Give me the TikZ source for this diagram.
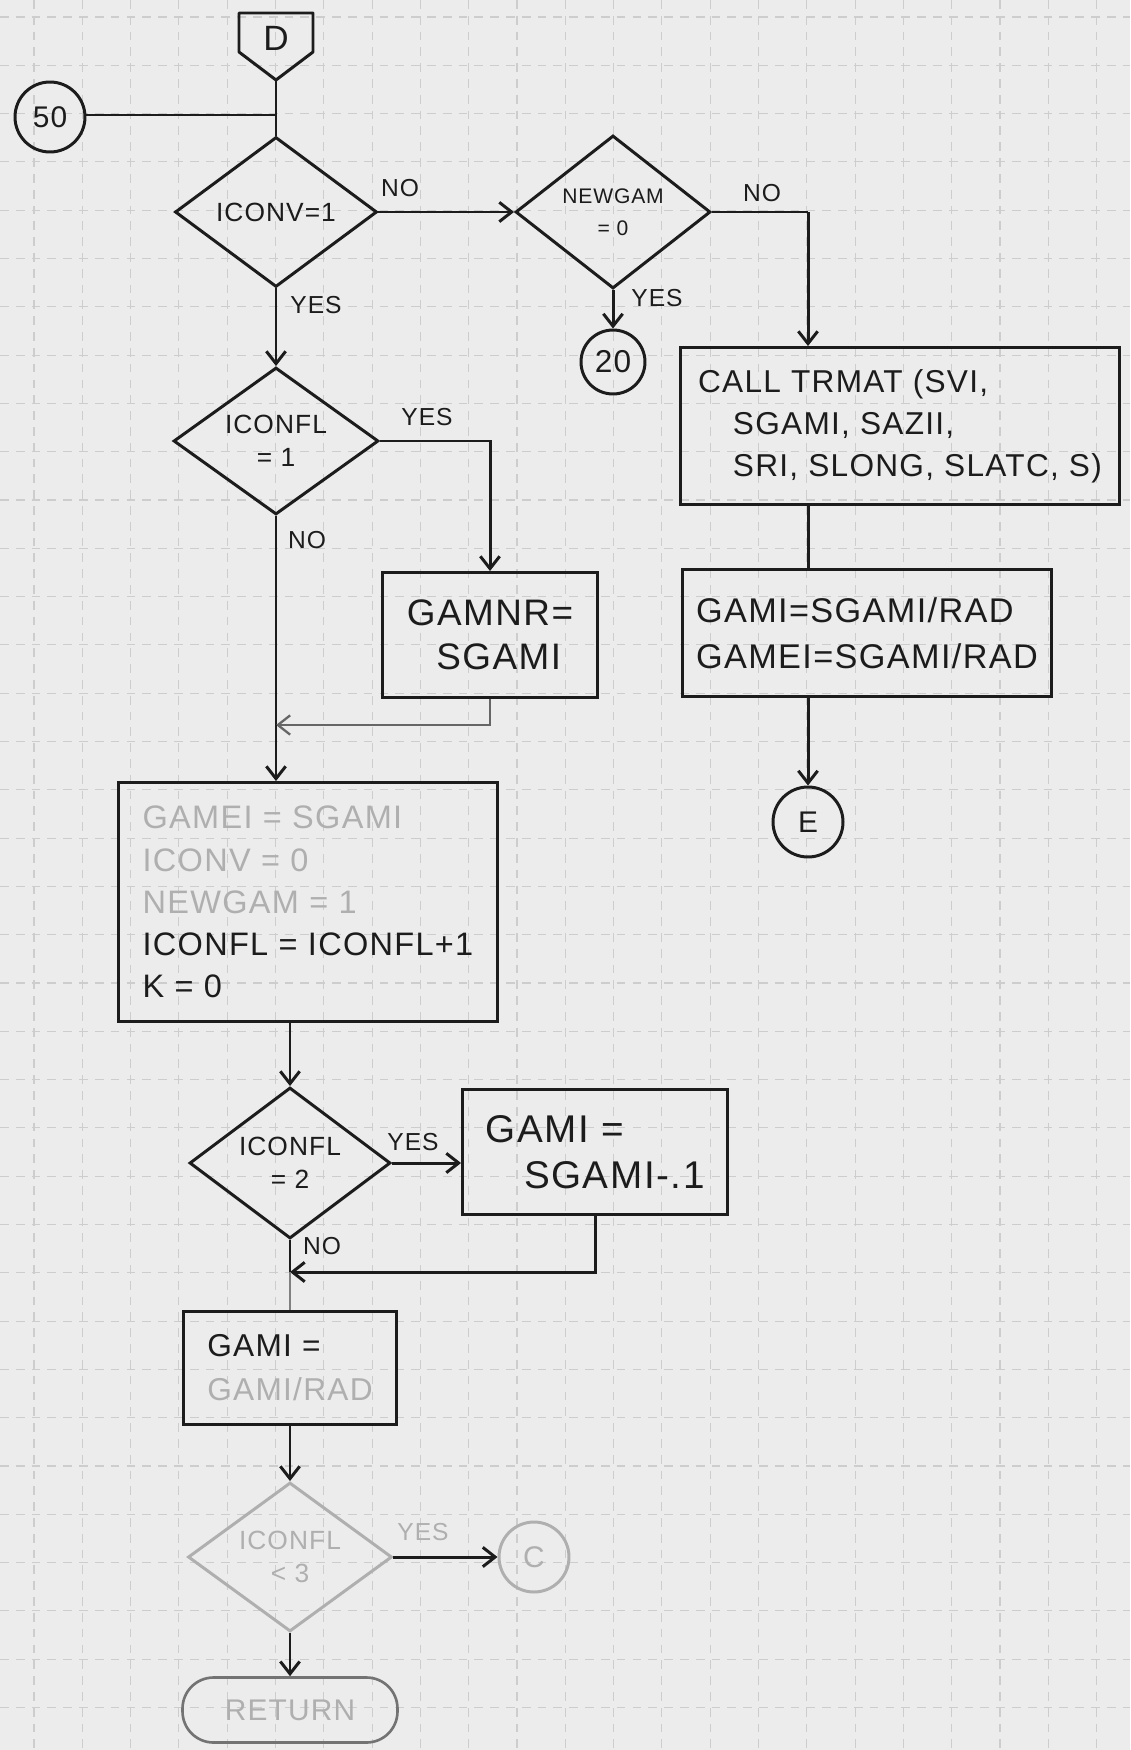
\documentclass[tikz,border=0pt]{standalone}
\usepackage{fontspec}
\setmainfont{Liberation Sans}[LetterSpace=4]
\usetikzlibrary{shapes.geometric,arrows.meta,calc}
\definecolor{paper}{RGB}{236,236,236}
\definecolor{ink}{RGB}{28,28,28}
\definecolor{gridc}{RGB}{205,205,205}
\definecolor{faintc}{RGB}{175,175,175}
\begin{document}
\begin{tikzpicture}[x=0.02cm,y=-0.02cm,
  ln/.style={draw=ink,line width=1.7pt},
  arr/.style={ln,-{Straight Barb[length=7pt,width=11pt]}},
  dia/.style={diamond,draw=ink,line width=1.7pt,inner sep=0pt,aspect=1.35,align=center,text=ink,font=\fontsize{15}{19}\selectfont},
  box/.style={rectangle,draw=ink,line width=1.7pt,inner sep=0pt,align=left,text=ink,font=\fontsize{18}{25}\selectfont},
  conn/.style={circle,draw=ink,line width=1.7pt,inner sep=0pt,minimum size=1.4cm,text=ink,font=\fontsize{17}{20}\selectfont},
  lbl/.style={inner sep=0pt,text=ink,font=\fontsize{14}{16}\selectfont},
  gridline/.style={draw=gridc,line width=0.6pt,dash pattern=on 5pt off 4pt}]
\fill[paper] (0,0) rectangle (1130,1750);
\useasboundingbox (0,0) rectangle (1130,1750);
\foreach \i in {0,...,22} \draw[gridline] ({34+48.3*\i},0) -- ({34+48.3*\i},1750);
\foreach \i in {0,...,35} \draw[gridline] (0,{17+48.3*\i}) -- (1130,{17+48.3*\i});

% entry connector D
\node[inner sep=0pt,text=ink,font=\fontsize{20}{20}\selectfont] (D) at (276,38) {D};
\coordinate (Dtip) at (276,80);
\draw[ln,line join=round] (239,13) -- (313,13) -- (313,52) -- (Dtip) -- (239,52) -- cycle;

% connector 50
\node[conn] (c50) at (50,117) {50};
\coordinate (J0) at (276,115);

% decisions and boxes
\node[dia,minimum width=4.04cm,minimum height=3.0cm] (ICONV) at (276,212) {ICONV=1};
\node[dia,minimum width=3.9cm,minimum height=3.06cm,font=\fontsize{12}{18}\selectfont] (NEWGAM) at (613,212) {NEWGAM\\= 0};
\node[conn,minimum size=1.28cm,font=\fontsize{18}{20}\selectfont] (c20) at (613,362) {20};
\node[box,minimum width=8.78cm,minimum height=3.14cm,font=\fontsize{18}{24}\selectfont] (TRMAT) at (900,426)
  {CALL TRMAT (SVI,\\\hspace*{1.1em}SGAMI, SAZII,\\\hspace*{1.1em}SRI, SLONG, SLATC, S)};
\node[box,minimum width=7.4cm,minimum height=2.54cm,font=\fontsize{19.5}{26}\selectfont] (GAMIA) at (867,633)
  {GAMI=SGAMI/RAD\\GAMEI=SGAMI/RAD};
\node[conn] (cE) at (808,822) {E};

\node[dia,minimum width=4.1cm,minimum height=2.94cm] (ICONFL1) at (276,441) {ICONFL\\= 1};
\node[box,minimum width=4.3cm,minimum height=2.5cm,font=\fontsize{21}{25}\selectfont] (GAMNR) at (490,635) {GAMNR=\\\hspace*{0.8em}SGAMI};
\coordinate (J1) at (276,725);

\node[box,minimum width=7.6cm,minimum height=4.78cm,font=\fontsize{18.5}{24}\selectfont] (BIG) at (308,902)
  {{\color{faintc}GAMEI = SGAMI}\\{\color{faintc}ICONV = 0}\\{\color{faintc}NEWGAM = 1}\\ICONFL = ICONFL+1\\K = 0};

\node[dia,minimum width=4.02cm,minimum height=3.02cm] (ICONFL2) at (290,1163) {ICONFL\\= 2};
\node[box,minimum width=5.3cm,minimum height=2.5cm,font=\fontsize{22}{26}\selectfont] (GAMI2) at (595,1152) {GAMI =\\\hspace*{1em}SGAMI-.1};
\coordinate (J2) at (290,1272);

\node[box,minimum width=4.26cm,minimum height=2.26cm] (GAMIR) at (290,1368) {GAMI =\\{\color{faintc}GAMI/RAD}};
\node[dia,draw=faintc,text=faintc,minimum width=4.08cm,minimum height=2.98cm] (ICONFL3) at (290,1557) {ICONFL\\< 3};
\node[conn,draw=faintc,text=faintc] (C3) at (534,1557) {C};
\node[rectangle,draw=black!55,line width=1.5pt,rounded corners=0.62cm,minimum width=4.3cm,minimum height=1.3cm,inner sep=0pt,text=faintc,font=\fontsize{17}{20}\selectfont] (RET) at (290,1710) {RETURN};

% labels
\node[lbl] (noA) at (400,188) {NO};
\node[lbl] (yesA) at (316,305) {YES};
\node[lbl] (noB) at (762,193) {NO};
\node[lbl] (yesB) at (657,298) {YES};
\node[lbl] (yesC) at (427,417) {YES};
\node[lbl] (noC) at (307,540) {NO};
\node[lbl] (yesD) at (413,1142) {YES};
\node[lbl] (noD) at (322,1246) {NO};
\node[lbl,text=faintc] (yesE) at (423,1532) {YES};

% connectors
\draw[ln] (Dtip) -- (ICONV.north);
\draw[ln] (c50.east |- J0) -- (J0);
\draw[arr] (ICONV.east) -- (NEWGAM.west);
\coordinate (c1) at (808,212);
\draw[ln] (NEWGAM.east) -- (c1);
\draw[arr] (c1) -- (c1 |- TRMAT.north);
\draw[arr] (NEWGAM.south) -- (c20.north);
\draw[ln] (c1 |- TRMAT.south) -- (c1 |- GAMIA.north);
\draw[arr] (c1 |- GAMIA.south) -- (cE.north);
\draw[arr] (ICONV.south) -- (ICONFL1.north);
\draw[arr] (ICONFL1.east) -| (GAMNR.north);
\draw[ln] (ICONFL1.south) -- (J1);
\draw[arr,draw=black!60,line width=1.3pt] (GAMNR.south) |- (J1);
\draw[arr] (J1) -- (J1 |- BIG.north);
\draw[arr] (ICONFL2.north |- BIG.south) -- (ICONFL2.north);
\draw[arr] (ICONFL2.east) -- (ICONFL2.east -| GAMI2.west);
\draw[ln] (ICONFL2.south) -- (J2);
\draw[arr] (GAMI2.south) |- (J2);
\draw[ln,draw=black!50,line width=1.2pt] (J2) -- (GAMIR.north);
\draw[arr] (GAMIR.south) -- (ICONFL3.north);
\draw[arr] (ICONFL3.east) -- (C3.west);
\draw[arr] (ICONFL3.south) -- (RET.north);
\end{tikzpicture}
\end{document}
